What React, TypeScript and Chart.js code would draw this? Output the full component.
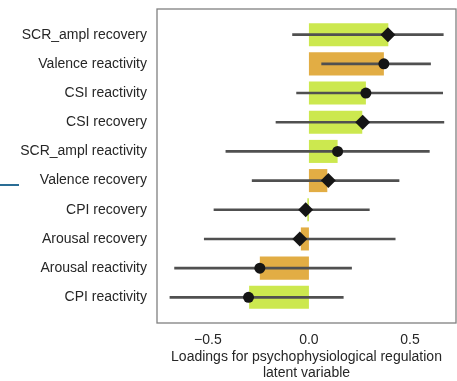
import React, { useEffect, useRef } from "react";
import { Chart, registerables } from "chart.js";

Chart.register(...registerables);

const categories = [
  "SCR_ampl recovery",
  "Valence reactivity",
  "CSI reactivity",
  "CSI recovery",
  "SCR_ampl reactivity",
  "Valence recovery",
  "CPI recovery",
  "Arousal recovery",
  "Arousal reactivity",
  "CPI reactivity",
];
const barValues = [0.393, 0.371, 0.282, 0.264, 0.142, 0.091, -0.008, -0.04, -0.243, -0.296];
const pointValues = [0.391, 0.371, 0.282, 0.266, 0.142, 0.096, -0.016, -0.045, -0.243, -0.299];
const errLow = [-0.081, 0.063, -0.061, -0.163, -0.411, -0.281, -0.47, -0.518, -0.665, -0.688];
const errHigh = [0.665, 0.602, 0.662, 0.668, 0.596, 0.446, 0.299, 0.427, 0.211, 0.17];
const barGroup = ["g", "o", "g", "g", "g", "o", "g", "o", "o", "g"];
const xTicks = [-0.5, 0, 0.5];
const xTitle = ["Loadings for psychophysiological regulation", "latent variable"];

const GREEN = "#cce84f";
const ORANGE = "#e2ad44";
const FONT = "'Liberation Sans', Arial, sans-serif";

const framePlugin = {
  id: "frame",
  afterDatasetsDraw(chart: any) {
    const { ctx, chartArea } = chart;
    ctx.save();
    ctx.strokeStyle = "#808080";
    ctx.lineWidth = 1.3;
    ctx.strokeRect(chartArea.left, chartArea.top, chartArea.right - chartArea.left, chartArea.bottom - chartArea.top);
    ctx.restore();
  },
};

const zeroPad = (axis: any) => {
  axis.paddingTop = 0;
  axis.paddingBottom = 0;
  axis.paddingLeft = 0;
  axis.paddingRight = 0;
};

export default function App() {
  const ref = useRef<HTMLCanvasElement>(null);
  useEffect(() => {
    if (!ref.current) return;
    const isRecovery = categories.map((c) => c.endsWith("recovery"));
    const chart = new Chart(ref.current, {
      type: "bar",
      data: {
        datasets: [
          {
            type: "bar",
            data: barValues.map((v, i) => ({ x: v, y: i })) as any,
            backgroundColor: barGroup.map((g) => (g === "o" ? ORANGE : GREEN)),
            barPercentage: 0.79,
            categoryPercentage: 1,
            grouped: false,
            order: 3,
          } as any,
          {
            type: "bar",
            data: errLow.map((lo, i) => ({ x: [lo, errHigh[i]], y: i })) as any,
            backgroundColor: "#505050",
            barThickness: 2,
            borderSkipped: false,
            grouped: false,
            order: 2,
          } as any,
          {
            type: "scatter",
            data: pointValues.map((v, i) => ({ x: v, y: i })),
            showLine: false,
            pointStyle: isRecovery.map((r) => (r ? "rectRot" : "circle")),
            pointRadius: isRecovery.map((r) => (r ? 7.5 : 5.5)),
            backgroundColor: "#151515",
            borderColor: "#151515",
            borderWidth: 0,
            clip: false,
            order: 1,
          } as any,
        ],
      },
      options: {
        indexAxis: "y",
        animation: false,
        responsive: false,
        maintainAspectRatio: false,
        layout: { autoPadding: false, padding: { left: 0, right: 1, top: 9, bottom: 0 } },
        plugins: { legend: { display: false }, tooltip: { enabled: false } },
        scales: {
          x: {
            type: "linear",
            position: "bottom",
            min: -0.752,
            max: 0.728,
            offset: false,
            grid: { display: false, drawTicks: false },
            border: { display: false },
            afterBuildTicks: (axis: any) => {
              axis.ticks = xTicks.map((v) => ({ value: v }));
            },
            afterFit: (axis: any) => {
              axis.height = 58;
              zeroPad(axis);
            },
            ticks: {
              padding: 9,
              color: "#262626",
              font: { family: FONT, size: 14 },
              callback: (v: any) => {
                const n = Number(v);
                const s = Math.abs(n).toFixed(1);
                return n < 0 ? "\u2212" + s : s;
              },
            },
            title: {
              display: true,
              text: xTitle,
              color: "#262626",
              font: { family: FONT, size: 14, lineHeight: 16 / 14 },
              padding: { top: 0, bottom: 0 },
            },
          },
          y: {
            type: "linear",
            reverse: true,
            min: -0.88,
            max: 9.88,
            offset: false,
            grid: { display: false, drawTicks: false, offset: false },
            border: { display: false },
            afterBuildTicks: (axis: any) => {
              axis.ticks = categories.map((_, i) => ({ value: i }));
            },
            afterFit: (axis: any) => {
              axis.width = 157;
              zeroPad(axis);
            },
            ticks: {
              padding: 10,
              color: "#262626",
              font: { family: FONT, size: 14 },
              callback: (v: any) => categories[Number(v)] ?? "",
            },
          },
        },
      } as any,
      plugins: [framePlugin],
    });
    return () => chart.destroy();
  }, []);

  return (
    <div style={{ position: "fixed", left: 0, top: 0, width: 457, height: 381, background: "#fff" }}>
      <canvas ref={ref} width={457} height={381} style={{ display: "block", width: 457, height: 381 }} />
      <div style={{ position: "absolute", left: 0, top: 184, width: 19, height: 2, background: "#2a6d95" }} />
    </div>
  );
}
